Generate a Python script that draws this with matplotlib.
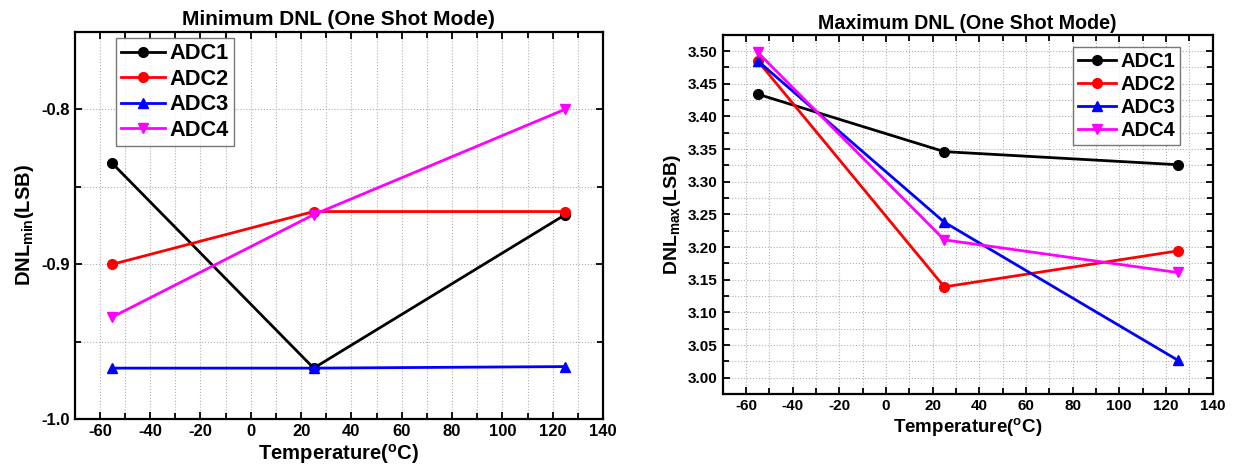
import matplotlib
matplotlib.use("Agg")
import matplotlib.pyplot as plt
from matplotlib.ticker import MultipleLocator, FormatStrFormatter

plt.rcParams['font.family'] = ['Liberation Sans', 'DejaVu Sans']
plt.rcParams['font.weight'] = 'bold'
plt.rcParams['axes.unicode_minus'] = False
plt.rcParams['mathtext.fontset'] = 'custom'
plt.rcParams['mathtext.rm'] = 'Liberation Sans:bold'
plt.rcParams['mathtext.it'] = 'Liberation Sans:bold'
plt.rcParams['mathtext.bf'] = 'Liberation Sans:bold'

temps = [-55, 25, 125]
series_names = ["ADC1", "ADC2", "ADC3", "ADC4"]
colors = ["black", "red", "blue", "magenta"]
markers = ["o", "o", "^", "v"]

dnl_min = {
    "ADC1": [-0.835, -0.967, -0.868],
    "ADC2": [-0.900, -0.866, -0.866],
    "ADC3": [-0.967, -0.967, -0.966],
    "ADC4": [-0.934, -0.868, -0.800],
}
dnl_max = {
    "ADC1": [3.434, 3.346, 3.326],
    "ADC2": [3.485, 3.139, 3.194],
    "ADC3": [3.485, 3.238, 3.027],
    "ADC4": [3.498, 3.211, 3.161],
}

W, H = 1234, 472
fig = plt.figure(figsize=(W / 100, H / 100), dpi=100)

ax1 = fig.add_axes([74.7 / W, 1 - 419.3 / H, (603 - 74.7) / W, (419.3 - 31.7) / H])
ax2 = fig.add_axes([722.7 / W, 1 - 394 / H, (1212.5 - 722.7) / W, (394 - 34.7) / H])

def style(ax, ticksize, xlabsize):
    for s in ax.spines.values():
        s.set_linewidth(1.6)
    ax.tick_params(which='both', direction='in', top=True, right=True, width=1.3)
    ax.tick_params(which='major', length=5, labelsize=ticksize)
    ax.tick_params(which='minor', length=4)
    ax.grid(True, which='both', color='#b0b0b0', linestyle=':', linewidth=0.8)
    ax.set_axisbelow(True)
    ax.set_xlim(-70, 140)
    ax.xaxis.set_major_locator(MultipleLocator(20))
    ax.xaxis.set_minor_locator(MultipleLocator(10))
    ax.set_xlabel(r'Temperature($^{\mathrm{o}}$C)', fontsize=xlabsize, fontweight='bold', labelpad=2)

for name, c, m in zip(series_names, colors, markers):
    ax1.plot(temps, dnl_min[name], color=c, marker=m, lw=2, ms=7, label=name)
    ax2.plot(temps, dnl_max[name], color=c, marker=m, lw=2, ms=7, label=name)

style(ax1, 12, 14.6)
ax1.set_ylim(-1.0, -0.75)
ax1.yaxis.set_major_locator(MultipleLocator(0.1))
ax1.yaxis.set_minor_locator(MultipleLocator(0.05))
ax1.yaxis.set_major_formatter(FormatStrFormatter('%.1f'))
ax1.set_ylabel(r'DNL$_{\mathrm{min}}$(LSB)', fontsize=14.5, fontweight='bold')
ax1.set_title('Minimum DNL (One Shot Mode)', fontsize=15, fontweight='bold', pad=5)

style(ax2, 11, 13.5)
ax2.set_ylim(2.975, 3.525)
ax2.yaxis.set_major_locator(MultipleLocator(0.05))
ax2.yaxis.set_minor_locator(MultipleLocator(0.025))
ax2.yaxis.set_major_formatter(FormatStrFormatter('%.2f'))
ax2.set_ylabel(r'DNL$_{\mathrm{max}}$(LSB)', fontsize=14, fontweight='bold')
ax2.set_title('Maximum DNL (One Shot Mode)', fontsize=14.1, fontweight='bold', pad=4)

common = dict(frameon=True, fancybox=False, edgecolor='#555555',
              handletextpad=0.2, borderpad=0.25, borderaxespad=0.0,
              bbox_transform=fig.transFigure)
l1 = ax1.legend(loc='upper left', bbox_to_anchor=(116 / W, 1 - 38 / H),
                fontsize=15.7, handlelength=2.0, labelspacing=0.2, **common)
l2 = ax2.legend(loc='upper right', bbox_to_anchor=(1180 / W, 1 - 47 / H),
                fontsize=14.5, handlelength=1.9, labelspacing=0.2, **common)
for l in (l1, l2):
    l.get_frame().set_linewidth(1.0)

fig.savefig("out.png", dpi=100)
